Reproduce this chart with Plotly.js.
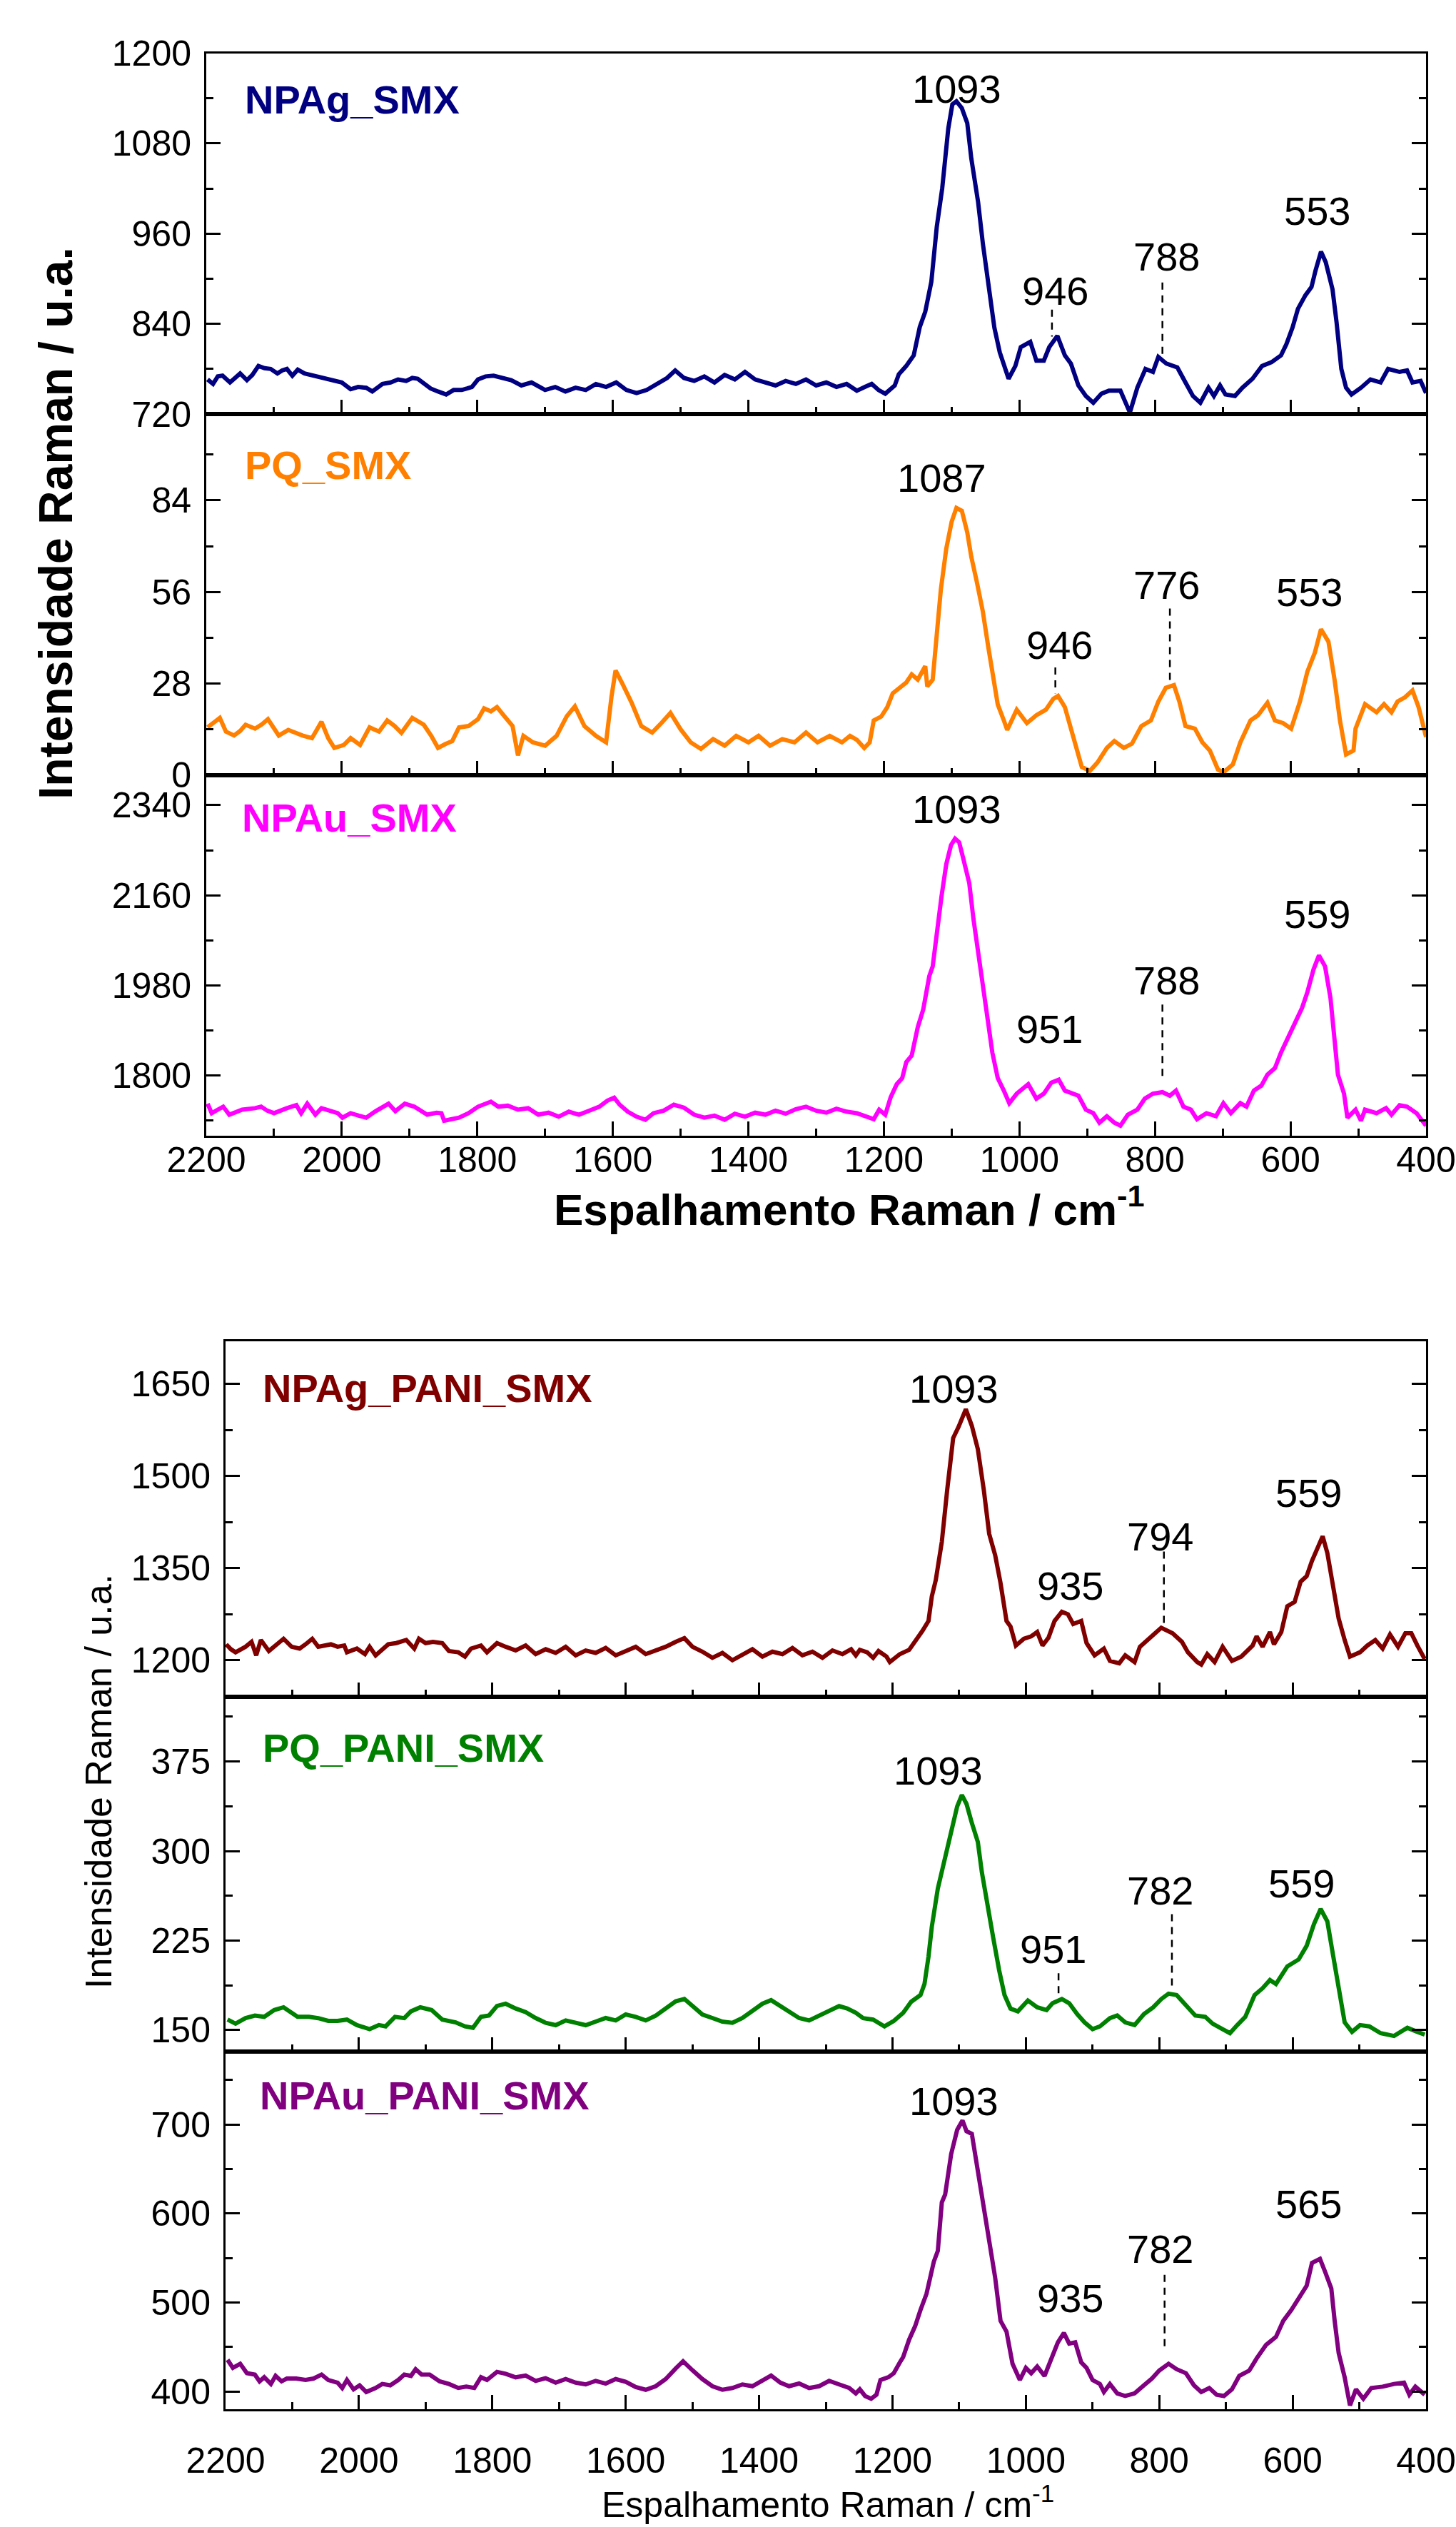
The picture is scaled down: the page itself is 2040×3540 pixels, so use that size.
<!DOCTYPE html>
<html><head><meta charset="utf-8">
<script src="https://cdn.plot.ly/plotly-3.0.1.min.js"></script>
<style>html,body{margin:0;padding:0;background:#fff}#chart{width:2040px;height:3540px}</style>
</head><body><div id="chart"></div>
<script>
// ---------- DATA (wavenumber cm-1, intensity a.u.) ----------
const NPAg_SMX = [[2198,766],[2190,760],[2183,770],[2176,771],[2165,762],[2158,768],[2150,774],[2140,765],[2132,772],[2123,784],[2114,781],[2105,780],[2095,774],[2088,778],[2081,780],[2073,771],[2065,779],[2055,774],[2046,772],[2035,771],[2022,768],[2011,765],[2000,762],[1987,753],[1976,756],[1964,755],[1955,750],[1946,756],[1940,760],[1928,762],[1917,766],[1905,764],[1896,768],[1888,767],[1878,760],[1869,754],[1858,750],[1846,746],[1835,752],[1823,752],[1815,754],[1808,756],[1799,766],[1788,770],[1776,771],[1765,768],[1750,765],[1735,758],[1720,762],[1700,752],[1685,756],[1670,750],[1655,755],[1640,752],[1625,760],[1610,756],[1595,762],[1580,752],[1565,748],[1550,752],[1535,760],[1520,768],[1508,778],[1495,768],[1480,764],[1465,770],[1450,762],[1435,772],[1420,766],[1405,776],[1390,766],[1375,762],[1360,758],[1345,764],[1330,760],[1315,766],[1300,758],[1285,762],[1270,756],[1255,760],[1240,751],[1228,756],[1218,760],[1208,752],[1198,747],[1184,758],[1178,773],[1167,784],[1156,798],[1147,836],[1139,856],[1130,896],[1122,969],[1114,1020],[1105,1100],[1099,1132],[1093,1136],[1085,1127],[1077,1107],[1071,1060],[1061,1002],[1054,947],[1046,896],[1037,835],[1029,802],[1023,784],[1016,767],[1006,784],[998,809],[984,816],[975,791],[964,791],[956,809],[944,824],[933,798],[924,787],[913,758],[902,744],[891,735],[879,747],[868,751],[851,751],[837,722],[826,755],[814,780],[803,776],[795,796],[783,787],[767,782],[755,762],[744,744],[733,735],[721,755],[713,744],[704,758],[696,746],[682,744],[671,755],[656,767],[642,784],[628,789],[614,798],[606,813],[597,835],[589,860],[578,878],[569,889],[563,911],[555,936],[548,922],[538,886],[532,842],[525,780],[518,755],[510,746],[496,755],[482,766],[467,762],[456,780],[439,776],[428,778],[420,762],[408,764],[400,748]];

const PQ_SMX = [[2198,14.6],[2190,16],[2180,17.5],[2171,13.3],[2159,12.1],[2150,13.5],[2142,15.4],[2128,14.2],[2118,15.5],[2109,17.1],[2100,14],[2093,12.1],[2079,13.8],[2068,12.8],[2058,12.1],[2044,11.3],[2030,16.3],[2020,11.3],[2011,8.3],[1997,9.2],[1987,11.3],[1973,9.2],[1959,14.6],[1945,13.3],[1933,16.7],[1922,15],[1912,12.9],[1896,17.5],[1879,15.4],[1868,12],[1858,8.3],[1847,9.5],[1837,10.4],[1827,14.6],[1813,15.0],[1799,17.1],[1790,20.4],[1780,19.5],[1771,20.8],[1760,18],[1748,15],[1740,6],[1732,12],[1718,10],[1700,9],[1683,12],[1668,18],[1656,21],[1642,15],[1625,12],[1610,10],[1602,24],[1596,32],[1586,28],[1572,22],[1558,15],[1542,13],[1528,16],[1515,19],[1500,14],[1485,10],[1470,8],[1452,11],[1435,9],[1418,12],[1400,10],[1385,12],[1368,9],[1350,11],[1332,10],[1315,13],[1298,10],[1280,12],[1262,10],[1250,12],[1240,10.8],[1229,8.3],[1221,10],[1215,16.7],[1204,17.9],[1195,20.8],[1187,25],[1176,26.7],[1167,28.3],[1159,30.8],[1150,29.2],[1139,33.3],[1136,27.1],[1128,29.2],[1122,43.3],[1116,56.7],[1108,69.2],[1100,77.5],[1093,81.7],[1085,80.8],[1077,74.2],[1071,66.7],[1063,59.2],[1054,50],[1046,39.2],[1040,30.8],[1032,21.6],[1023,16.7],[1018,13.8],[1004,20],[989,15.9],[975,18.3],[961,20],[950,23.3],[943,24.2],[933,20.8],[925,15],[916,7.5],[908,2.5],[896,1.3],[885,3.8],[871,8.3],[860,10.4],[846,8.3],[834,9.6],[820,15],[806,16.7],[795,22.5],[784,26.7],[772,27.5],[764,22.5],[755,15],[741,14.2],[730,10],[719,7.5],[707,1.7],[699,0.8],[685,3.3],[674,10],[659,16.7],[648,18.3],[634,22.1],[623,16.7],[611,15.9],[599,14.2],[586,22.5],[575,31.7],[564,37.5],[555,44.6],[544,40.8],[535,29.2],[527,16.7],[518,6.3],[507,7.5],[504,14.2],[490,21.7],[473,19.2],[462,21.7],[451,19.2],[442,22.5],[431,23.8],[420,25.9],[411,20.8],[400,11.7]];

const NPAu_SMX = [[2198,1744],[2192,1725],[2183,1732],[2175,1738],[2166,1722],[2156,1728],[2147,1732],[2128,1735],[2119,1738],[2110,1730],[2100,1725],[2081,1735],[2067,1741],[2060,1725],[2051,1744],[2039,1722],[2030,1735],[2018,1730],[2006,1725],[1999,1716],[1987,1725],[1975,1720],[1964,1716],[1950,1729],[1931,1744],[1921,1729],[1907,1744],[1893,1738],[1874,1722],[1860,1726],[1853,1725],[1849,1710],[1838,1714],[1827,1716],[1813,1725],[1799,1738],[1780,1748],[1769,1738],[1755,1740],[1740,1732],[1725,1735],[1710,1722],[1695,1726],[1680,1718],[1665,1728],[1650,1722],[1635,1730],[1620,1738],[1608,1750],[1598,1756],[1590,1742],[1578,1728],[1565,1718],[1552,1712],[1540,1725],[1525,1730],[1510,1742],[1495,1736],[1480,1722],[1465,1716],[1450,1720],[1435,1712],[1420,1724],[1405,1718],[1390,1726],[1375,1722],[1360,1730],[1345,1724],[1330,1733],[1315,1738],[1300,1730],[1285,1726],[1270,1734],[1255,1728],[1240,1725],[1228,1720],[1215,1713],[1207,1732],[1198,1722],[1190,1757],[1181,1783],[1173,1795],[1167,1827],[1159,1840],[1150,1897],[1142,1932],[1133,1999],[1128,2018],[1122,2088],[1115,2158],[1108,2222],[1101,2260],[1095,2273],[1089,2266],[1083,2234],[1074,2184],[1068,2114],[1063,2063],[1054,1980],[1046,1904],[1040,1846],[1032,1795],[1023,1770],[1015,1745],[1004,1764],[987,1783],[975,1754],[964,1764],[953,1786],[942,1792],[933,1770],[923,1766],[913,1760],[902,1732],[891,1725],[882,1706],[871,1719],[860,1706],[851,1700],[840,1722],[826,1732],[815,1754],[803,1764],[789,1767],[778,1760],[769,1770],[758,1738],[747,1732],[738,1713],[724,1725],[710,1719],[699,1745],[688,1725],[674,1745],[665,1738],[654,1770],[643,1780],[634,1802],[623,1815],[614,1846],[603,1878],[592,1910],[583,1935],[575,1967],[566,2012],[558,2040],[549,2018],[541,1955],[535,1878],[530,1802],[521,1764],[516,1716],[504,1732],[496,1710],[490,1732],[473,1725],[459,1735],[451,1722],[439,1741],[428,1738],[414,1725],[400,1700]];

const NPAg_PANI_SMX = [[2199,1226],[2192,1218],[2185,1213],[2170,1222],[2161,1230],[2154,1208],[2147,1233],[2135,1215],[2123,1226],[2113,1235],[2101,1222],[2089,1219],[2080,1226],[2070,1235],[2061,1222],[2050,1225],[2042,1226],[2032,1222],[2022,1224],[2018,1213],[2003,1219],[1991,1210],[1984,1222],[1975,1208],[1965,1218],[1956,1226],[1944,1228],[1929,1233],[1917,1219],[1910,1235],[1900,1228],[1889,1230],[1875,1228],[1865,1215],[1851,1213],[1841,1206],[1832,1219],[1817,1224],[1808,1213],[1800,1220],[1793,1228],[1780,1222],[1765,1216],[1750,1224],[1735,1210],[1720,1218],[1705,1212],[1690,1222],[1675,1208],[1660,1216],[1645,1212],[1630,1220],[1615,1208],[1600,1215],[1585,1222],[1570,1210],[1555,1216],[1540,1222],[1525,1230],[1512,1236],[1500,1222],[1485,1214],[1470,1204],[1455,1212],[1440,1200],[1425,1210],[1410,1218],[1395,1206],[1380,1214],[1365,1210],[1350,1220],[1335,1208],[1320,1214],[1305,1204],[1290,1216],[1275,1210],[1262,1218],[1255,1208],[1249,1217],[1238,1213],[1229,1204],[1221,1215],[1209,1206],[1204,1197],[1189,1210],[1175,1217],[1164,1233],[1155,1248],[1146,1264],[1141,1304],[1135,1331],[1126,1393],[1118,1477],[1109,1562],[1101,1580],[1090,1609],[1081,1582],[1072,1544],[1063,1477],[1055,1406],[1046,1371],[1038,1326],[1029,1264],[1023,1255],[1015,1224],[1003,1235],[992,1239],[983,1246],[975,1224],[966,1237],[957,1264],[946,1279],[937,1275],[929,1259],[917,1264],[909,1228],[897,1208],[883,1219],[874,1199],[860,1195],[851,1208],[837,1197],[829,1222],[814,1237],[797,1253],[780,1244],[766,1230],[757,1213],[743,1197],[737,1193],[728,1210],[717,1197],[705,1222],[691,1199],[677,1206],[660,1224],[654,1239],[645,1222],[634,1246],[628,1226],[617,1246],[608,1288],[597,1295],[588,1328],[579,1337],[571,1362],[562,1384],[555,1402],[548,1375],[539,1322],[531,1268],[522,1233],[514,1206],[499,1213],[488,1224],[476,1233],[465,1219],[454,1242],[442,1222],[431,1244],[422,1244],[413,1224],[402,1202]];

const PQ_PANI_SMX = [[2197,158.7],[2185,155.3],[2170,159.9],[2156,162.1],[2142,161],[2127,166.7],[2113,169],[2104,165.6],[2092,161],[2075,161],[2061,159.9],[2046,157.6],[2032,157.6],[2018,158.7],[2003,154.1],[1984,150.7],[1970,154.1],[1960,153],[1946,161],[1932,159.9],[1922,165.6],[1908,169],[1891,166.7],[1875,158.7],[1855,156.4],[1841,153],[1829,151.8],[1817,161],[1805,162.1],[1793,170.1],[1780,172],[1765,168],[1750,165],[1735,160],[1720,156],[1705,154],[1690,158],[1675,156],[1660,154],[1645,157],[1630,160],[1615,158],[1600,163],[1585,161],[1570,158],[1555,162],[1540,168],[1525,174],[1512,176],[1500,170],[1485,163],[1470,160],[1455,157],[1440,156],[1425,160],[1410,166],[1395,172],[1382,175],[1368,170],[1355,165],[1340,160],[1325,158],[1310,162],[1295,166],[1280,170],[1268,168],[1255,164.4],[1244,159.9],[1229,158.7],[1212,153],[1198,157.6],[1184,164.4],[1172,173.6],[1158,179.3],[1152,188.5],[1146,211.4],[1141,236.5],[1132,268.6],[1121,293.7],[1112,314.4],[1103,337.3],[1096,346.9],[1089,339.5],[1081,323.5],[1072,307.5],[1066,282.3],[1058,254.8],[1049,227.4],[1040,199.9],[1032,179.3],[1023,167.9],[1012,165.6],[997,174.7],[983,169],[969,166.7],[960,172.4],[946,175.9],[935,172.4],[923,163.3],[912,156.4],[900,150.7],[889,153],[874,159.9],[863,162.1],[851,156.4],[837,154.1],[823,163.3],[809,169],[797,175.9],[786,180.4],[774,179.3],[760,170.1],[746,162.1],[731,161],[720,155.3],[705,150.7],[694,147.3],[683,154.1],[671,161],[657,179.3],[645,185],[634,191.9],[625,188.5],[608,203.3],[591,209.1],[579,220.5],[568,238.8],[558,251.4],[548,241.1],[539,211.4],[531,183.9],[522,156.4],[511,148.4],[499,154.1],[485,153],[468,147.3],[448,145],[428,151.8],[413,148.4],[402,146.1]];

const NPAu_PANI_SMX = [[2197,435.7],[2189,426.6],[2178,431.2],[2168,420.6],[2156,419.1],[2149,411.5],[2142,416.1],[2132,408.5],[2125,417.6],[2116,411.5],[2108,414.6],[2094,414.6],[2080,413],[2068,414.6],[2056,419.1],[2046,413],[2032,410],[2025,404],[2018,413],[2008,402.5],[1999,407],[1989,399.5],[1975,404],[1965,408.5],[1953,407],[1941,413],[1932,419.1],[1922,417.6],[1915,425.1],[1906,419.1],[1894,419.1],[1879,411.5],[1865,408.5],[1851,404],[1839,405.5],[1827,404],[1817,416.1],[1808,413],[1793,422.1],[1780,420],[1765,416],[1750,418],[1735,412],[1720,415],[1705,410],[1690,414],[1675,410],[1660,408],[1645,412],[1630,409],[1615,414],[1600,411],[1585,405],[1570,402],[1555,406],[1540,414],[1525,426],[1514,434],[1500,424],[1485,414],[1470,406],[1455,402],[1440,404],[1425,408],[1410,406],[1395,412],[1382,418],[1368,410],[1355,406],[1340,409],[1325,404],[1310,406],[1295,412],[1280,408],[1265,404],[1255,397.9],[1249,402.5],[1241,395],[1232,391.9],[1224,396.5],[1218,413],[1206,416.1],[1198,420.6],[1189,432.7],[1184,438.7],[1175,458.4],[1166,473.5],[1158,491.6],[1149,509.7],[1138,545.9],[1132,558],[1126,612.4],[1121,621.4],[1112,666.7],[1103,693.9],[1095,704.5],[1089,692.4],[1081,689.4],[1072,647.1],[1063,600.3],[1055,570.1],[1046,527.8],[1038,479.5],[1029,467.4],[1020,431.2],[1009,413],[1000,426.6],[992,420.6],[983,428.1],[972,417.6],[960,440.2],[952,455.3],[943,465.9],[935,453.8],[926,455.3],[917,432.7],[909,426.6],[900,413],[889,408.5],[883,399.5],[874,408.5],[863,397.9],[851,395],[837,397.9],[823,407],[811,414.6],[800,423.6],[786,431.2],[774,425.1],[760,420.6],[748,407],[737,399.5],[725,404],[714,396.5],[703,395],[691,402.5],[680,417.6],[665,423.6],[654,437.2],[640,452.3],[625,461.4],[614,479.5],[602,491.6],[591,505.2],[579,518.8],[571,544.4],[559,549],[551,533.9],[542,515.7],[537,479.5],[531,443.3],[522,416.1],[514,384.4],[505,402.5],[494,391.9],[482,404],[465,405.5],[448,408.5],[433,410],[425,396.5],[416,405.5],[402,396.5]];

// peak labels: [text, x, y] ; dashed guide lines: [x, y0, y1]
const peaks1 = [["1093",1093,1153],["946",947,884],["788",783,929],["553",561,990]];
const dashes1 = [[952,859,823],[789,895,799]];
const peaks2 = [["1087",1115,90.9],["946",941,39.8],["776",783,58.2],["553",572,56]];
const dashes2 = [[947,32.9,25],[778,50.9,27.5]];
const peaks3 = [["1093",1093,2332],["951",956,1893],["788",783,1990],["559",561,2122]];
const dashes3 = [[789,1942,1789]];
const peaks4 = [["1093",1108,1642],["935",933,1321],["794",799,1402],["559",576,1473]];
const dashes4 = [[793,1377,1253]];
const peaks5 = [["1093",1131,367.5],["951",959,218],["782",799,267],["559",587,273]];
const dashes5 = [[951,197.6,177],[781,247,184]];
const peaks6 = [["1093",1108,726],["935",933,505],["782",799,560],["565",576,611]];
const dashes6 = [[792,531,448]];

const xTicks = {tick0:400, dtick:200, minor:100, range:[2200,400]};

// ---------- LAYOUT ----------
const W = 2040, H = 3540;
const fx = v => v / W, fy = v => 1 - v / H;
const FONT = '"Liberation Sans", Arial, Helvetica, sans-serif';

const panels = [
  {name:'NPAg_SMX', data:NPAg_SMX, color:'#000080', top:74.6, bot:580, fig:0, range:[720,1200], tick0:720, dtick:120, lx:341, ly:140, peaks:peaks1, dashes:dashes1, last:false},
  {name:'PQ_SMX', data:PQ_SMX, color:'#FF8000', top:580, bot:1085.8, fig:0, range:[0,110.4], tick0:0, dtick:28, lx:341, ly:651, peaks:peaks2, dashes:dashes2, last:false},
  {name:'NPAu_SMX', data:NPAu_SMX, color:'#FF00FF', top:1085.8, bot:1591, fig:0, range:[1680,2400], tick0:1800, dtick:180, lx:337, ly:1145, peaks:peaks3, dashes:dashes3, last:true},
  {name:'NPAg_PANI_SMX', data:NPAg_PANI_SMX, color:'#800000', top:1878.7, bot:2377.4, fig:1, range:[1140,1720], tick0:1200, dtick:150, lx:366, ly:1944, peaks:peaks4, dashes:dashes4, last:false},
  {name:'PQ_PANI_SMX', data:PQ_PANI_SMX, color:'#008000', top:2377.4, bot:2873.8, fig:1, range:[132,429], tick0:150, dtick:75, lx:366, ly:2448, peaks:peaks5, dashes:dashes5, last:false},
  {name:'NPAu_PANI_SMX', data:NPAu_PANI_SMX, color:'#800080', top:2873.8, bot:3375.2, fig:1, range:[380,782], tick0:400, dtick:100, lx:362, ly:2935, peaks:peaks6, dashes:dashes6, last:true}
];
const figs = [{left:289, right:1998, xstand:-12}, {left:316, right:1998, xstand:26}];

const traces = [], shapes = [], annotations = [];
const layout = {
  width: W, height: H, margin:{l:0,r:0,t:0,b:0},
  paper_bgcolor:'#fff', plot_bgcolor:'#fff', showlegend:false,
  font:{family:FONT, color:'#000'}
};

panels.forEach((p, i) => {
  const n = i === 0 ? '' : String(i + 1);
  const f = figs[p.fig];
  traces.push({
    type:'scatter', mode:'lines',
    x: p.data.map(d => d[0]), y: p.data.map(d => d[1]),
    xaxis:'x' + n, yaxis:'y' + n,
    line:{color:p.color, width:6}, hoverinfo:'skip'
  });
  layout['xaxis' + n] = {
    domain:[fx(f.left), fx(f.right)], anchor:'y' + n,
    range:xTicks.range, tickmode:'linear', tick0:xTicks.tick0, dtick:xTicks.dtick,
    ticks:'inside', ticklen:20, tickwidth:3, tickcolor:'#000',
    minor:{dtick:xTicks.minor, ticks:'inside', ticklen:10, tickwidth:3, tickcolor:'#000'},
    showline:true, linewidth:3, linecolor:'#000', mirror:true,
    showgrid:false, zeroline:false, showticklabels:p.last,
    tickfont:{family:FONT, size:50, color:'#000'}, ticklabelstandoff:f.xstand
  };
  layout['yaxis' + n] = {
    domain:[fy(p.bot), fy(p.top)], anchor:'x' + n,
    range:p.range, tickmode:'linear', tick0:p.tick0, dtick:p.dtick,
    ticks:'inside', ticklen:20, tickwidth:3, tickcolor:'#000',
    minor:{dtick:p.dtick/2, ticks:'inside', ticklen:10, tickwidth:3, tickcolor:'#000'},
    showline:true, linewidth:3, linecolor:'#000', mirror:'ticks',
    showgrid:false, zeroline:false,
    tickfont:{family:FONT, size:50, color:'#000'}, ticklabelstandoff:8
  };
  p.peaks.forEach(pk => annotations.push({
    text:pk[0], x:pk[1], y:pk[2], xref:'x' + n, yref:'y' + n,
    showarrow:false, xanchor:'center', yanchor:'middle',
    font:{family:FONT, size:56, color:'#000'}
  }));
  p.dashes.forEach(d => shapes.push({
    type:'line', xref:'x' + n, yref:'y' + n, x0:d[0], x1:d[0], y0:d[1], y1:d[2],
    line:{color:'#000', width:2.5, dash:'10px,8px'}
  }));
  annotations.push({
    text:'<b>' + p.name + '</b>', x:fx(p.lx), y:fy(p.ly), xref:'paper', yref:'paper',
    showarrow:false, xanchor:'left', yanchor:'middle',
    font:{family:FONT, size:56, color:p.color}
  });
});

// axis titles
annotations.push({text:'<b>Intensidade Raman / u.a.</b>', x:fx(78), y:fy(733), xref:'paper', yref:'paper',
  textangle:-90, showarrow:false, xanchor:'center', yanchor:'middle', font:{family:FONT, size:66, color:'#000'}});
annotations.push({text:'<b>Espalhamento Raman / cm<sup>-1</sup></b>', x:fx(1190), y:fy(1690), xref:'paper', yref:'paper',
  showarrow:false, xanchor:'center', yanchor:'middle', font:{family:FONT, size:62, color:'#000'}});
annotations.push({text:'Intensidade Raman / u.a.', x:fx(138), y:fy(2496), xref:'paper', yref:'paper',
  textangle:-90, showarrow:false, xanchor:'center', yanchor:'middle', font:{family:FONT, size:52, color:'#000'}});
annotations.push({text:'Espalhamento Raman / cm<sup>-1</sup>', x:fx(1160), y:fy(3505), xref:'paper', yref:'paper',
  showarrow:false, xanchor:'center', yanchor:'middle', font:{family:FONT, size:50, color:'#000'}});

layout.shapes = shapes;
layout.annotations = annotations;

Plotly.newPlot('chart', traces, layout, {staticPlot:true, displayModeBar:false});
</script>
</body></html>
